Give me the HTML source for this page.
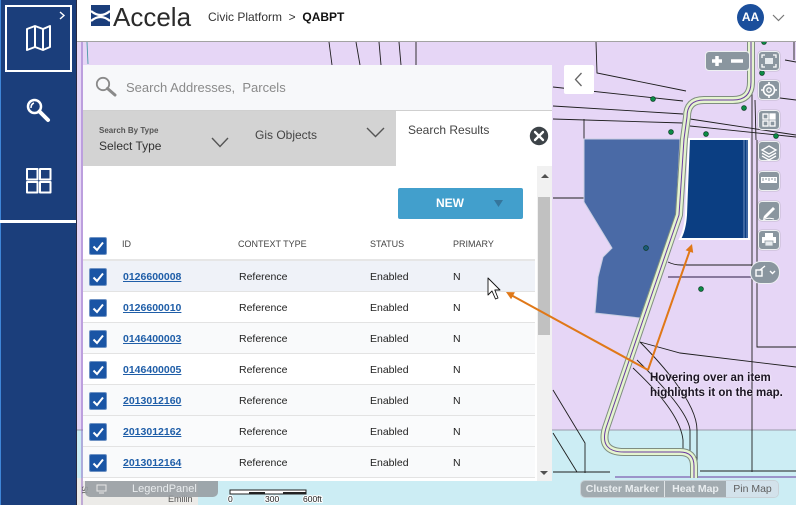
<!DOCTYPE html>
<html><head><meta charset="utf-8">
<style>
*{box-sizing:border-box;margin:0;padding:0}
body{width:796px;height:505px;overflow:hidden;position:relative;font-family:"Liberation Sans",Arial,sans-serif;background:#e6d6f6}
.a{position:absolute}
.row{position:absolute;left:83px;width:452px;height:31px;border-bottom:1px solid #e3e3e3;font-size:10.5px;color:#222}
.row span{position:absolute;top:1px;line-height:30px}
.cb{position:absolute;left:6px;top:7px;width:18px;height:18px;background:#1a55a5;border:1px solid #6f93c4;border-radius:2px}
.id{left:40px;color:#1f5ea8;text-decoration:underline;font-weight:bold}
.tb{position:absolute;left:758px;width:22px;height:20px;background:#8a969f;border:1.5px solid #eef0f2;border-radius:4px;box-shadow:0 0 1px #777}
.hd{position:absolute;top:238px;font-size:9px;color:#444;line-height:12px}
</style></head><body>

<!-- MAP -->
<svg class="a" style="left:0;top:0" width="796" height="505">
<rect x="76" y="42" width="720" height="463" fill="#e6d6f6"/>
<rect x="76" y="430" width="720" height="75" fill="#ccedf4"/>
<line x1="76" y1="430" x2="796" y2="430" stroke="#9a9aaa" stroke-width="1"/>
<rect x="76" y="478" width="122" height="27" fill="#ecebe8"/>
<g stroke="#1e1e1e" stroke-width="0.9" fill="none">
<path d="M82 42 L82 505" stroke="#8a5cc0"/>
<path d="M87 42 L88 64" stroke="#4a9aa8"/>
<path d="M329 42 L332 65"/><path d="M356 42 L360 65"/><path d="M379 42 L381 65"/>
<path d="M399 42 L401 65"/><path d="M416 42 L416 65"/>
<path d="M596 42 L597 73 L686 91"/>
<path d="M553 87 L683 101"/>
<path d="M553 106 L683 114 M690 119 L796 135"/>
<path d="M553 119 L683 123"/>
<path d="M584 119 L584 139"/>
<path d="M690 126 L796 137"/>
<path d="M794 42 L794 60"/>
<path d="M755 100 L756 140"/>
<path d="M553 198 L584 198"/>
<path d="M752 92 L752 472"/>
<path d="M757 140 L757 347 L796 347"/>
<path d="M668 262 Q674 265 681 265 L752 265"/>
<path d="M668 277 L752 277" stroke="#7a6a90" stroke-width="1.8"/>
<path d="M640 342 L680 353 L796 367"/>
<path d="M553 390 L585 443 L585 473"/>
<path d="M553 433 L577 472"/>
<path d="M637 360 Q688 410 690 430 L690 452"/>
<path d="M633 368 Q680 412 683 440 L683 452 L622 452"/>
<path d="M640 342 Q697 400 697 430 L697 472"/>
<path d="M553 472 L610 472 M700 471 L796 471"/>
<path d="M615 477 L796 477" stroke="#6a3aa0"/>
<path d="M785 60 L796 62 M780 98 L796 100"/>
</g>
<!-- polygons -->
<polygon points="584,139 680,139 676,215 640,318 595,313 598,277 603,257 612,248 584,202" fill="#4a6aa6" stroke="#c9cfe2" stroke-width="1"/>
<path d="M689,139 L749,139 L749,239 L680,239 Q685,230 686,215 Z" fill="#0b3e82" stroke="#ffffff" stroke-width="2"/>
<g stroke="#6f8ebf" stroke-width="1"><line x1="744" y1="140" x2="744" y2="238"/><line x1="747" y1="140" x2="747" y2="238"/></g>
<!-- road -->
<g fill="none" stroke-linejoin="round">
<path d="M751,42 L751,82 Q751,100 733,100 L704,100 Q687,100 687,117 L684,139 L679,215 L643,320 L606,428 Q599,452 624,452 L680,452 Q694,452 694,466 L694,478" stroke="#7f8d80" stroke-width="8"/>
<path d="M751,42 L751,82 Q751,100 733,100 L704,100 Q687,100 687,117 L684,139 L679,215 L643,320 L606,428 Q599,452 624,452 L680,452 Q694,452 694,466 L694,478" stroke="#e4f4cf" stroke-width="6"/>
<path d="M751,42 L751,82 Q751,100 733,100 L704,100 Q687,100 687,117 L684,139 L679,215 L643,320 L606,428 Q599,452 624,452 L680,452 Q694,452 694,466 L694,478" stroke="#6a3aa0" stroke-width="1"/>
</g>
<g fill="#0b8a45" stroke="#0a3a20" stroke-width="0.7">
<circle cx="653" cy="99" r="2.4"/><circle cx="744" cy="108" r="2.4"/><circle cx="762" cy="73" r="2.4"/>
<circle cx="764" cy="42" r="2.4"/><circle cx="671" cy="132" r="2.4"/><circle cx="706" cy="134" r="2.4"/>
<circle cx="776" cy="136" r="2.4"/><circle cx="701" cy="289" r="2.4"/>
<circle cx="646" cy="248" r="2.4" fill="#1a5a7a"/>
</g>
<text x="0" y="0" transform="translate(82,486) rotate(90)" font-size="8" fill="#555">St</text>
<text x="168" y="502" font-size="9" fill="#555">Emilin</text>
</svg>

<!-- SIDEBAR -->
<div class="a" style="left:0;top:0;width:76px;height:505px;background:#1b3e7b"></div>
<div class="a" style="left:0;top:0;width:1px;height:505px;background:#3f86d8"></div>
<div class="a" style="left:76px;top:0;width:1px;height:505px;background:#2a2a40"></div>
<div class="a" style="left:5px;top:5px;width:67px;height:67px;border:2px solid #fff"></div>
<div class="a" style="left:0;top:220px;width:76px;height:3px;background:#fff"></div>
<svg class="a" style="left:0;top:0" width="76" height="200">
<polyline points="60,12 64,15.5 60,19" fill="none" stroke="#fff" stroke-width="1.4"/>
<g fill="none" stroke="#fff" stroke-width="2" stroke-linejoin="round">
<polygon points="27,29 35,26 43,29 50,26 50,47 43,50 35,47 27,50"/>
<line x1="35" y1="26" x2="35" y2="47"/><line x1="43" y1="29" x2="43" y2="50"/>
<circle cx="34.5" cy="106.5" r="6.5" stroke-width="2.5"/>
<line x1="39.5" y1="111.5" x2="48" y2="120" stroke-width="4" stroke-linecap="round"/>
<path d="M31 108 Q31 104 34 103" stroke-width="1.5"/>
<rect x="27" y="169" width="10.5" height="10.5"/><rect x="40" y="169" width="10.5" height="10.5"/>
<rect x="27" y="182" width="10.5" height="10.5"/><rect x="40" y="182" width="10.5" height="10.5"/>
</g>
</svg>

<!-- HEADER -->
<div class="a" style="left:77px;top:0;width:719px;height:42px;background:#fff;border-bottom:1px solid #a3a3a3"></div>
<svg class="a" style="left:90px;top:4px" width="22" height="24">
<rect x="1" y="1" width="19" height="21" fill="#1b3e7b"/>
<path d="M1 7 Q10.5 15 20 7" fill="none" stroke="#fff" stroke-width="2.2"/>
<path d="M1 17 Q10.5 9 20 17" fill="none" stroke="#fff" stroke-width="2.2"/>
</svg>
<div class="a" style="left:113px;top:2px;font-size:26px;color:#2b2b2b;line-height:30px">Accela</div>
<div class="a" style="left:208px;top:9px;font-size:12px;color:#333;line-height:16px">Civic Platform&nbsp;&nbsp;&gt;&nbsp;&nbsp;<b style="color:#111">QABPT</b></div>
<div class="a" style="left:737px;top:4px;width:27px;height:27px;border-radius:50%;background:#1b4f9c;color:#fff;font-weight:bold;font-size:12px;line-height:27px;text-align:center">AA</div>
<svg class="a" style="left:770px;top:12px" width="18" height="12"><polyline points="3,3 8.5,8.5 14,3" fill="none" stroke="#777" stroke-width="1.2"/></svg>

<!-- PANEL -->
<div class="a" style="left:83px;top:65px;width:469px;height:46px;background:#f7f8fa;border-bottom:1px solid #cfcfcf"></div>
<svg class="a" style="left:92px;top:74px" width="28" height="26">
<circle cx="11" cy="10" r="6.2" fill="none" stroke="#8a8a8a" stroke-width="1.8"/>
<line x1="15.5" y1="14.5" x2="23" y2="21" stroke="#8a8a8a" stroke-width="3" stroke-linecap="round"/>
</svg>
<div class="a" style="left:126px;top:80px;font-size:13px;color:#8a8a8a;line-height:16px">Search Addresses,&nbsp; Parcels</div>

<div class="a" style="left:83px;top:111px;width:313px;height:55px;background:#d3d3d3"></div>
<div class="a" style="left:99px;top:126px;font-size:8px;font-weight:bold;color:#555;line-height:10px">Search By Type</div>
<div class="a" style="left:99px;top:139px;font-size:12px;color:#333;line-height:15px">Select Type</div>
<div class="a" style="left:255px;top:128px;font-size:12px;color:#444;line-height:15px">Gis Objects</div>
<svg class="a" style="left:200px;top:120px" width="196" height="34" fill="none" stroke="#555" stroke-width="1.4">
<polyline points="12,18 20,26.5 28,18"/><polyline points="167,8 175.5,16.5 184,8"/>
</svg>
<div class="a" style="left:396px;top:111px;width:156px;height:55px;background:#fff"></div>
<div class="a" style="left:408px;top:123px;font-size:12px;color:#444;line-height:15px">Search Results</div>
<svg class="a" style="left:528px;top:125px" width="22" height="22">
<circle cx="11" cy="11" r="9.2" fill="#3d4348"/>
<path d="M7 7 L15 15 M15 7 L7 15" stroke="#fff" stroke-width="2.3" stroke-linecap="round"/>
</svg>

<div class="a" style="left:83px;top:166px;width:454px;height:315px;background:#fff"></div>
<div class="a" style="left:537px;top:166px;width:15px;height:315px;background:#f1f1f1"></div>
<div class="a" style="left:538px;top:197px;width:12px;height:138px;background:#c1c1c1"></div>
<svg class="a" style="left:537px;top:166px" width="15" height="315">
<polygon points="4,12 8,8 12,12" fill="#505050"/><polygon points="3,305 11,305 7,309" fill="#505050"/>
</svg>

<div class="a" style="left:398px;top:188px;width:125px;height:31px;background:#429fcc;border-radius:2px"></div>
<div class="a" style="left:436px;top:196px;font-size:12px;font-weight:bold;color:#fff;line-height:15px">NEW</div>
<svg class="a" style="left:493px;top:198px" width="12" height="12"><polygon points="1,2 10,2 5.5,9" fill="#35769c"/></svg>

<!-- table header -->
<div class="a" style="left:83px;top:230px;width:452px;height:31px;border-bottom:2px solid #e6e6e6"></div>
<div class="cb" style="left:89px;top:237px"><svg width="16" height="16" style="position:absolute;left:0;top:0"><polyline points="3.5,8.5 7,12 13,4.5" fill="none" stroke="#fff" stroke-width="2"/></svg></div>
<div class="hd" style="left:122px">ID</div>
<div class="hd" style="left:238px">CONTEXT TYPE</div>
<div class="hd" style="left:370px">STATUS</div>
<div class="hd" style="left:453px">PRIMARY</div>

<div class="row" style="top:261px;background:#eff2f8"><div class="cb"><svg width="16" height="16" style="position:absolute;left:0;top:0"><polyline points="3.5,8.5 7,12 13,4.5" fill="none" stroke="#fff" stroke-width="2"/></svg></div><span class="id">0126600008</span><span style="left:156px">Reference</span><span style="left:287px">Enabled</span><span style="left:370px">N</span></div>
<div class="row" style="top:292px;background:#fff"><div class="cb"><svg width="16" height="16" style="position:absolute;left:0;top:0"><polyline points="3.5,8.5 7,12 13,4.5" fill="none" stroke="#fff" stroke-width="2"/></svg></div><span class="id">0126600010</span><span style="left:156px">Reference</span><span style="left:287px">Enabled</span><span style="left:370px">N</span></div>
<div class="row" style="top:323px;background:#f9fafb"><div class="cb"><svg width="16" height="16" style="position:absolute;left:0;top:0"><polyline points="3.5,8.5 7,12 13,4.5" fill="none" stroke="#fff" stroke-width="2"/></svg></div><span class="id">0146400003</span><span style="left:156px">Reference</span><span style="left:287px">Enabled</span><span style="left:370px">N</span></div>
<div class="row" style="top:354px;background:#fff"><div class="cb"><svg width="16" height="16" style="position:absolute;left:0;top:0"><polyline points="3.5,8.5 7,12 13,4.5" fill="none" stroke="#fff" stroke-width="2"/></svg></div><span class="id">0146400005</span><span style="left:156px">Reference</span><span style="left:287px">Enabled</span><span style="left:370px">N</span></div>
<div class="row" style="top:385px;background:#f9fafb"><div class="cb"><svg width="16" height="16" style="position:absolute;left:0;top:0"><polyline points="3.5,8.5 7,12 13,4.5" fill="none" stroke="#fff" stroke-width="2"/></svg></div><span class="id">2013012160</span><span style="left:156px">Reference</span><span style="left:287px">Enabled</span><span style="left:370px">N</span></div>
<div class="row" style="top:416px;background:#fafbfc"><div class="cb"><svg width="16" height="16" style="position:absolute;left:0;top:0"><polyline points="3.5,8.5 7,12 13,4.5" fill="none" stroke="#fff" stroke-width="2"/></svg></div><span class="id">2013012162</span><span style="left:156px">Reference</span><span style="left:287px">Enabled</span><span style="left:370px">N</span></div>
<div class="row" style="top:447px;background:#f9fafb"><div class="cb"><svg width="16" height="16" style="position:absolute;left:0;top:0"><polyline points="3.5,8.5 7,12 13,4.5" fill="none" stroke="#fff" stroke-width="2"/></svg></div><span class="id">2013012164</span><span style="left:156px">Reference</span><span style="left:287px">Enabled</span><span style="left:370px">N</span></div>

<!-- collapse button -->
<div class="a" style="left:564px;top:65px;width:30px;height:29px;background:#fff;border-radius:2px"></div>
<svg class="a" style="left:564px;top:65px" width="30" height="29"><polyline points="17.5,8 11.5,14.5 17.5,21" fill="none" stroke="#666" stroke-width="1.3"/></svg>

<!-- map tools -->
<div class="a" style="left:705px;top:51px;width:45px;height:20px;background:#8a969f;border:1.5px solid #eef0f2;border-radius:4px"></div>
<svg class="a" style="left:705px;top:51px" width="45" height="20">
<path d="M12 5 L12 15 M7 10 L17 10" stroke="#fff" stroke-width="3.5"/>
<path d="M26 10 L38 10" stroke="#fff" stroke-width="3.5"/>
</svg>
<div class="tb" style="top:51px"></div>
<div class="tb" style="top:80px"></div>
<div class="tb" style="top:110px"></div>
<div class="tb" style="top:141px"></div>
<div class="tb" style="top:171px"></div>
<div class="tb" style="top:201px"></div>
<div class="tb" style="top:230px"></div>
<svg class="a" style="left:758px;top:51px" width="22" height="200" fill="none" stroke="#fff" stroke-width="1.3">
<path d="M4 7 L4 4 L7 4 M15 4 L18 4 L18 7 M18 13 L18 16 L15 16 M7 16 L4 16 L4 13"/>
<rect x="7" y="7" width="8" height="6" fill="#e8ecef" stroke="none"/>
<circle cx="11" cy="39" r="5.5" stroke-width="1.6"/><circle cx="11" cy="39" r="2.2"/>
<path d="M11 31 L11 34 M11 44 L11 47 M3 39 L6 39 M16 39 L19 39" stroke-width="1.6"/>
<rect x="5" y="63" width="5" height="5"/><rect x="12" y="63" width="5" height="5" fill="#fff"/>
<rect x="5" y="70" width="5" height="5"/><rect x="12" y="70" width="5" height="5"/>
<path d="M11 95 L18 99 L11 103 L4 99 Z M4 102 L11 106 L18 102 M4 105 L11 109 L18 105"/>
<rect x="3" y="126" width="16" height="6" fill="#fff" stroke="none"/>
<path d="M5 127 L5 130 M8 127 L8 129 M11 127 L11 130 M14 127 L14 129 M17 127 L17 130" stroke="#8a969f" stroke-width="1"/>
<path d="M6 165 L15 156 L17 158 L8 167 L5 168 Z" fill="#fff" stroke="none"/>
<path d="M5 169 Q10 166 16 168" stroke-width="1"/>
<rect x="7" y="182" width="8" height="4" fill="#fff" stroke="none"/>
<rect x="4" y="186" width="14" height="6" fill="#fff" stroke="none"/>
<rect x="7" y="190" width="8" height="5" fill="#e8ecef" stroke="#8a969f" stroke-width="0.8"/>
</svg>
<div class="a" style="left:750px;top:261px;width:30px;height:23px;background:#8a969f;border:1.5px solid #eef0f2;border-radius:11px"></div>
<svg class="a" style="left:750px;top:261px" width="30" height="23" fill="none" stroke="#fff" stroke-width="1.4">
<rect x="6" y="9" width="6" height="6"/><path d="M10 9 L15 5"/><polyline points="20,10 22.5,12.5 25,10"/>
</svg>

<!-- bottom controls -->
<div class="a" style="left:85px;top:481px;width:133px;height:16px;background:rgba(150,156,160,0.88);border-radius:0 0 5px 5px"></div>
<svg class="a" style="left:96px;top:484px" width="12" height="10"><rect x="1" y="1" width="9" height="6" fill="none" stroke="#e6e6e6" stroke-width="1"/><line x1="3" y1="9" x2="8" y2="9" stroke="#e6e6e6"/></svg>
<div class="a" style="left:132px;top:482px;font-size:11px;color:#e9ecee;line-height:14px">LegendPanel</div>
<svg class="a" style="left:226px;top:486px" width="104" height="19">
<rect x="4" y="4" width="76" height="4" fill="#fff" stroke="#222" stroke-width="1"/>
<rect x="23" y="6" width="16" height="2" fill="#222"/><rect x="57" y="6" width="23" height="2" fill="#222"/>
<g font-size="8.5" fill="#222" stroke="#fff" stroke-width="2" paint-order="stroke" font-family="Liberation Sans, sans-serif">
<text x="2" y="16">0</text><text x="39" y="16">300</text><text x="77" y="16">600ft</text></g>
</svg>
<div class="a" style="left:580px;top:480px;width:199px;height:18px;border:1px solid #c9d2d8;border-radius:5px;overflow:hidden;font-size:10.5px;line-height:16px">
<div class="a" style="left:0;top:0;width:84px;height:16px;background:#a2abb0;color:#e9edef;font-weight:bold;text-align:center;border-right:1px solid #e0e4e6">Cluster Marker</div>
<div class="a" style="left:84px;top:0;width:61px;height:16px;background:#a2abb0;color:#e9edef;font-weight:bold;text-align:center">Heat Map</div>
<div class="a" style="left:145px;top:0;width:53px;height:16px;background:#d3e2eb;color:#606060;text-align:center">Pin Map</div>
</div>

<!-- annotation overlay -->
<svg class="a" style="left:0;top:0" width="796" height="505">
<g stroke="#e07818" stroke-width="2" fill="none">
<line x1="648" y1="370" x2="511" y2="295"/>
<line x1="648" y1="370" x2="690" y2="250"/>
</g>
<polygon points="506,292 514.9,292.3 511.1,299.3" fill="#e07818"/>
<polygon points="692,244 693.2,252.9 685.6,250.3" fill="#e07818"/>
<polygon points="488,278 488,295 492,291 495.5,299 498,298 494.8,290 500,290" fill="#fff" stroke="#111" stroke-width="0.9" stroke-linejoin="round"/>
</svg>
<div class="a" style="left:650px;top:371px;font-size:11.5px;font-weight:bold;color:#1c1424;line-height:15px;text-shadow:0 0 2px #fff">Hovering over an item<br>highlights it on the map.</div>

</body></html>
